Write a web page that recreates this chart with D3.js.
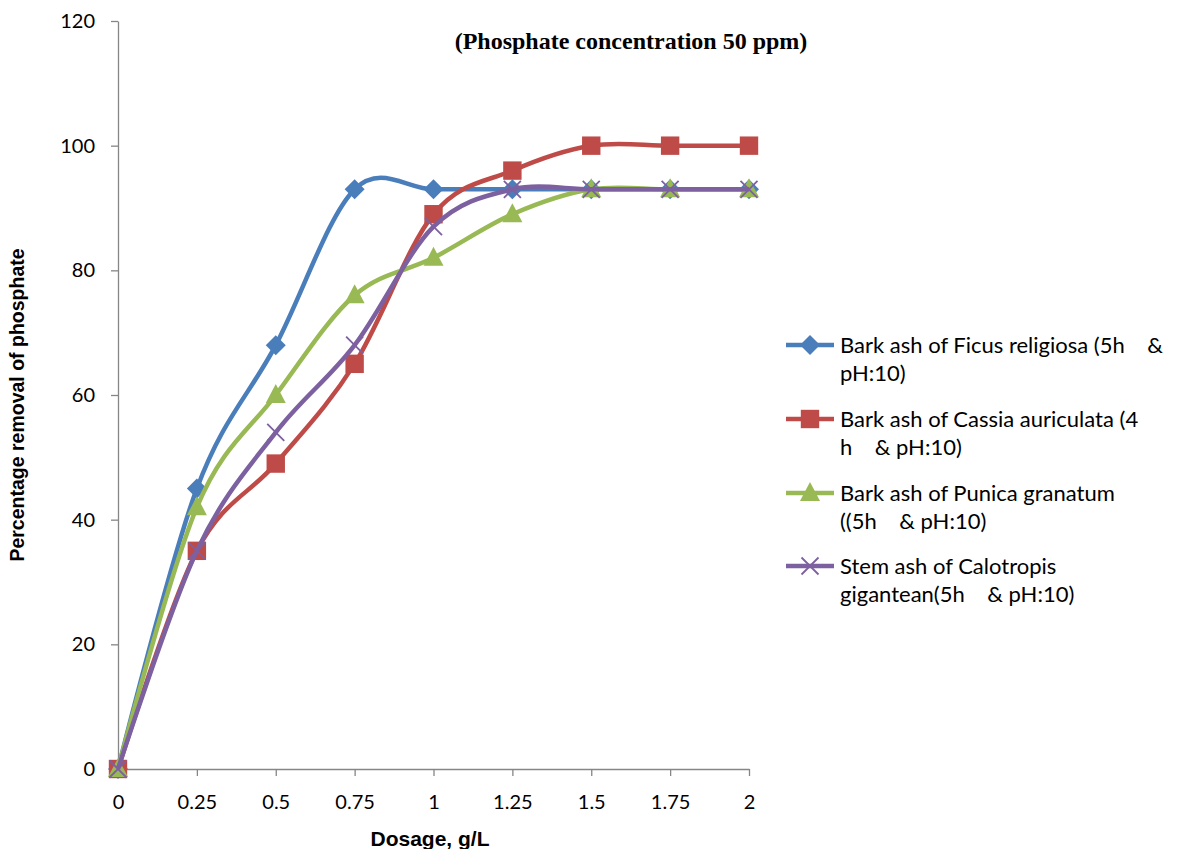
<!DOCTYPE html>
<html>
<head>
<meta charset="utf-8">
<script src="https://cdn.jsdelivr.net/npm/d3@7"></script>
<style>
  body { margin: 0; background: #fff; }
  text { white-space: pre; }
</style>
</head>
<body>
<div id="chartContainer"></div>
<script>
var dosage = [0, 0.25, 0.5, 0.75, 1, 1.25, 1.5, 1.75, 2];
var xTicks = ["0", "0.25", "0.5", "0.75", "1", "1.25", "1.5", "1.75", "2"];
var ficus = [0, 45, 68, 93, 93, 93, 93, 93, 93];
var cassia = [0, 35, 49, 65, 89, 96, 100, 100, 100];
var punica = [0, 42, 60, 76, 82, 89, 93, 93, 93];
var calotropis = [0, 35, 54, 68, 87, 93, 93, 93, 93];
var seriesNames = [
    ["Bark ash of Ficus religiosa (5h    &", "pH:10)"],
    ["Bark ash of Cassia auriculata (4", "h    & pH:10)"],
    ["Bark ash of Punica granatum", "((5h    & pH:10)"],
    ["Stem ash of Calotropis", "gigantean(5h    & pH:10)"]
];

function init() {
    var w = 1177;
    var h = 849;
    var left = 118, right = 749, top = 21, bottom = 769;

    var series = [
        { name: seriesNames[0], values: ficus, color: "#4a7ebb", marker: "diamond" },
        { name: seriesNames[1], values: cassia, color: "#be4b48", marker: "square" },
        { name: seriesNames[2], values: punica, color: "#98b954", marker: "triangle" },
        { name: seriesNames[3], values: calotropis, color: "#7d60a0", marker: "cross" }
    ];

    var xScale = d3.scaleLinear().domain([0, 2]).range([left, right]);
    var yScale = d3.scaleLinear().domain([0, 120]).range([bottom, top]);

    var svg = d3.select("#chartContainer")
        .append("svg")
        .attr("width", w)
        .attr("height", h);

    // axes
    var xAxis = d3.axisBottom(xScale).tickValues(dosage)
        .tickFormat(function (d, i) { return xTicks[i]; })
        .tickSize(7).tickSizeOuter(0).tickPadding(19);
    var yAxis = d3.axisLeft(yScale).ticks(6).tickSize(7).tickSizeOuter(0).tickPadding(16);

    var gx = svg.append("g")
        .attr("transform", "translate(0," + bottom + ")")
        .call(xAxis);
    var gy = svg.append("g")
        .attr("transform", "translate(" + left + ",0)")
        .call(yAxis);
    [gx, gy].forEach(function (g) {
        g.selectAll("path, line").attr("stroke", "#868686").attr("stroke-width", 1.3);
        g.selectAll("text").attr("font-family", "Lato, 'Open Sans', sans-serif")
            .attr("font-size", "20px").attr("fill", "#000");
    });

    // lines
    var line = d3.line()
        .x(function (d, i) { return xScale(dosage[i]); })
        .y(function (d) { return yScale(d); })
        .curve(d3.curveCardinal.tension(0));

    function drawMarker(g, type, color, size) {
        var r = size / 2;
        if (type === "diamond") {
            g.append("path").attr("d", "M0," + (-r) + "L" + r + ",0L0," + r + "L" + (-r) + ",0Z")
                .attr("fill", color);
        } else if (type === "square") {
            g.append("rect").attr("x", -r * 0.92).attr("y", -r * 0.92)
                .attr("width", size * 0.92).attr("height", size * 0.92).attr("fill", color);
        } else if (type === "triangle") {
            g.append("path").attr("d", "M0," + (-r * 1.1) + "L" + r + "," + (r * 0.8) +
                "L" + (-r) + "," + (r * 0.8) + "Z").attr("fill", color);
        } else {
            var s = r * 0.85;
            g.append("path").attr("d", "M" + (-s) + "," + (-s) + "L" + s + "," + s + "M" + (-s) + "," + s + "L" + s + "," + (-s))
                .attr("stroke", color).attr("stroke-width", 1.8).attr("fill", "none");
        }
    }

    series.forEach(function (s) {
        svg.append("path")
            .datum(s.values)
            .attr("fill", "none")
            .attr("stroke", s.color)
            .attr("stroke-width", 4.5)
            .attr("d", line);
        s.values.forEach(function (v, i) {
            var g = svg.append("g")
                .attr("transform", "translate(" + xScale(dosage[i]) + "," + yScale(v) + ")");
            drawMarker(g, s.marker, s.color, 20);
        });
    });

    // title
    svg.append("text")
        .attr("x", 631).attr("y", 49)
        .attr("text-anchor", "middle")
        .attr("font-family", "'Liberation Serif', 'Times New Roman', serif")
        .attr("font-weight", "bold")
        .attr("font-size", "24px")
        .text("(Phosphate concentration 50 ppm)");

    // axis titles
    svg.append("text")
        .attr("x", 430).attr("y", 846)
        .attr("text-anchor", "middle")
        .attr("font-family", "'Liberation Sans', Arial, sans-serif")
        .attr("font-weight", "bold")
        .attr("font-size", "21px")
        .text("Dosage, g/L");
    svg.append("text")
        .attr("transform", "translate(24,405) rotate(-90)")
        .attr("text-anchor", "middle")
        .attr("font-family", "'Liberation Sans', Arial, sans-serif")
        .attr("font-weight", "bold")
        .attr("font-size", "19.5px")
        .text("Percentage removal of phosphate");

    // legend
    var legendY = [345, 419, 493, 566];
    series.forEach(function (s, i) {
        var g = svg.append("g").attr("transform", "translate(786," + legendY[i] + ")");
        g.append("line").attr("x1", 0).attr("x2", 48).attr("y1", 0).attr("y2", 0)
            .attr("stroke", s.color).attr("stroke-width", 4.5);
        var m = g.append("g").attr("transform", "translate(24,0)");
        drawMarker(m, s.marker, s.color, 20);
        s.name.forEach(function (t, j) {
            g.append("text")
                .attr("x", 54).attr("y", 8 + j * 28)
                .attr("font-family", "Lato, 'Open Sans', sans-serif")
                .attr("font-size", "22px")
                .text(t);
        });
    });
}

window.onload = init;
</script>
</body>
</html>
